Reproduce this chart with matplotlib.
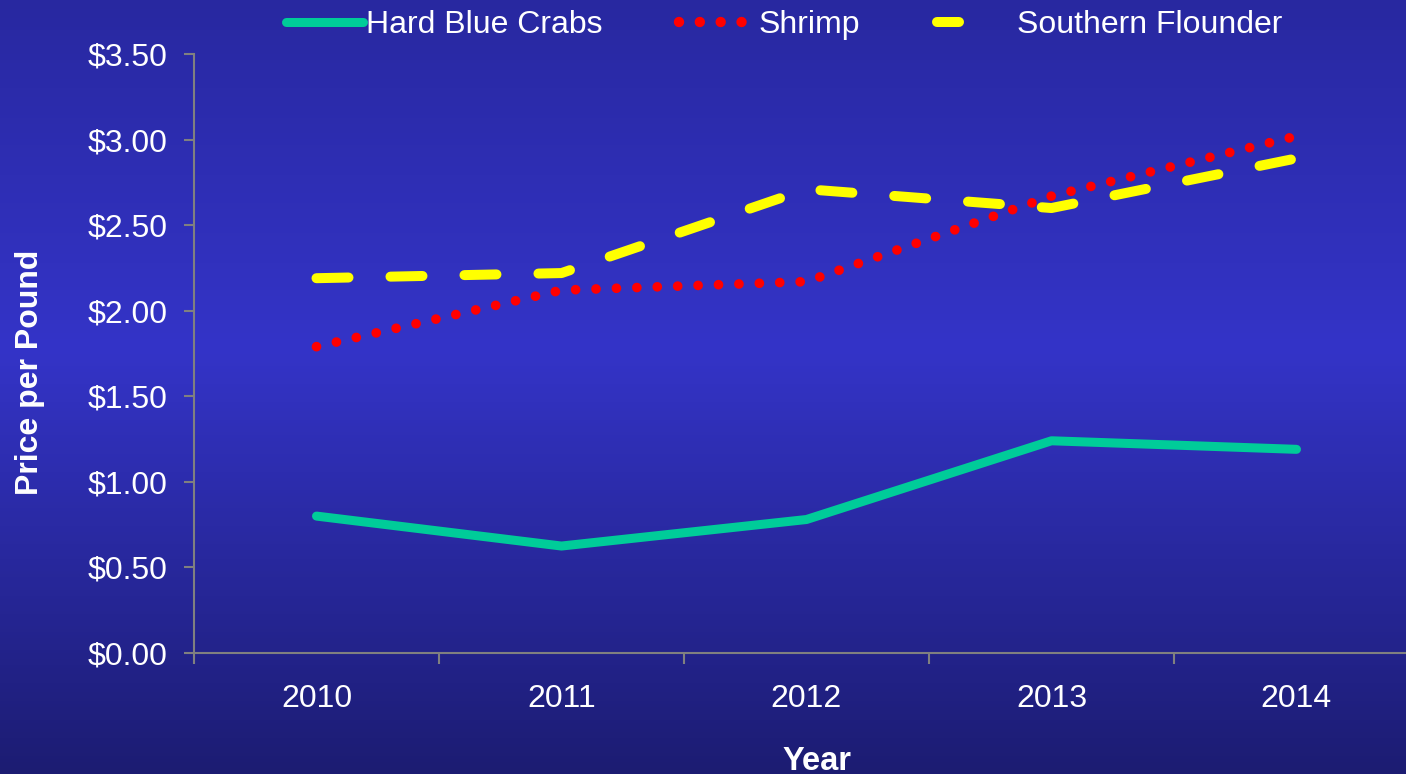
import matplotlib.pyplot as plt
import numpy as np
from matplotlib.colors import LinearSegmentedColormap
from matplotlib.lines import Line2D

plt.rcParams['font.family'] = ['Liberation Sans', 'DejaVu Sans']

years = ['2010', '2011', '2012', '2013', '2014']
crabs = [0.80, 0.625, 0.78, 1.24, 1.19]
shrimp = [1.79, 2.12, 2.17, 2.67, 3.02]
flounder = [2.19, 2.22, 2.71, 2.60, 2.89]
yticks = [0, 0.5, 1.0, 1.5, 2.0, 2.5, 3.0, 3.5]

fig = plt.figure(figsize=(14.06, 7.74), dpi=100)

# background gradient
bg = fig.add_axes([0, 0, 1, 1], zorder=-10)
cmap = LinearSegmentedColormap.from_list(
    'bg', [(0, '#2828a0'), (0.45, '#3434c8'), (1.0, '#1c1c72')])
bg.imshow(np.linspace(0, 1, 256).reshape(-1, 1), aspect='auto', cmap=cmap,
          extent=[0, 1, 0, 1])
bg.axis('off')

ax = fig.add_axes([194 / 1406, 1 - 653 / 774, (1419 - 194) / 1406, (653 - 54) / 774])
ax.patch.set_alpha(0)

x = np.arange(len(years))
l1, = ax.plot(x, crabs, color='#00cc99', lw=6.5, solid_capstyle='round',
              solid_joinstyle='round', label='Hard Blue Crabs')
l2, = ax.plot(x, shrimp, color='#ff0000', lw=7.0, linestyle=(0, (0.001, 2.1)),
              dash_capstyle='round', label='Shrimp')
ax.plot(x, flounder, color='#ffff00', lw=7.2, linestyle=(0, (3.2, 4.2)),
        dash_capstyle='round', label='Southern Flounder')

ax.set_xlim(-0.5, 4.5)
ax.set_ylim(0, 3.5)
ax.set_yticks(yticks)
ax.set_yticklabels(['${:.2f}'.format(v) for v in yticks])
ax.set_xticks(x)
ax.set_xticklabels(years)
ax.set_xticks(np.arange(-0.5, 5, 1), minor=True)

for s in ['top', 'right']:
    ax.spines[s].set_visible(False)
for s in ['left', 'bottom']:
    ax.spines[s].set_color('#808080')
    ax.spines[s].set_linewidth(1.5)

ax.tick_params(axis='y', colors='#808080', labelcolor='white', labelsize=23,
               length=7, width=1.5, pad=12)
ax.tick_params(axis='x', which='major', length=0, labelcolor='white',
               labelsize=23, pad=22)
ax.tick_params(axis='x', which='minor', colors='#808080', length=8, width=1.5)

fig.text(817 / 1406, 1 - 761 / 774, 'Year', color='white', fontsize=23.5,
         fontweight='bold', ha='center', va='center')
fig.text(30 / 1406, 1 - 372 / 774, 'Price per Pound', color='white', fontsize=23,
         fontweight='bold', ha='center', va='center', rotation=90)

# legend proxy for the flounder: a single short dash
fl_handle = Line2D([], [], color='#ffff00', lw=7.2, linestyle=(0, (2.2, 30)),
                   dash_capstyle='round')
sh_handle = Line2D([], [], color='#ff0000', lw=7.5, linestyle=(0, (0.001, 2.0)),
                   dash_capstyle='round')
fig.legend([l1, sh_handle, fl_handle], ['Hard Blue Crabs', 'Shrimp', 'Southern Flounder'],
           loc='center', bbox_to_anchor=(784 / 1406, 1 - 25 / 774), ncol=3,
           frameon=False, fontsize=23, labelcolor='white',
           handlelength=2.4, handletextpad=0.1, columnspacing=2.4)

fig.savefig('out.png', dpi=100)
